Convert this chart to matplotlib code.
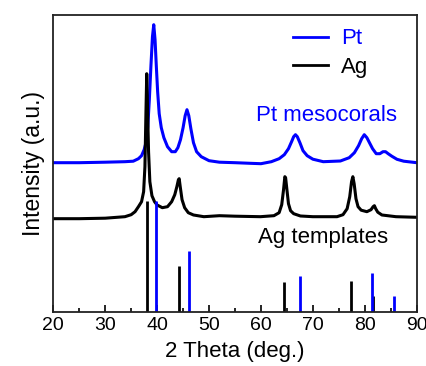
import matplotlib
matplotlib.use("Agg")
import matplotlib.pyplot as plt
from matplotlib.ticker import MultipleLocator
from matplotlib.lines import Line2D

plt.rcParams['font.family'] = ['Liberation Sans', 'DejaVu Sans']

# Pt mesocorals XRD curve (2theta, intensity a.u.)
pt_x = [20, 25, 30, 33.8, 35.4, 36.4, 37.0, 37.5, 37.9, 38.2, 38.5, 38.8, 39.1,
        39.35, 39.6, 39.85, 40.1, 40.4, 40.8, 41.3, 42.0, 42.8, 43.5, 44.0, 44.5,
        45.0, 45.4, 45.75, 46.1, 46.5, 47.0, 47.6, 48.5, 50.0, 52, 55, 57.9, 60.0,
        62.0, 63.5, 64.5, 65.3, 65.9, 66.3, 66.65, 67.0, 67.5, 68.1, 68.9, 70.0,
        72.0, 75.3, 77.0, 78.0, 78.8, 79.4, 79.9, 80.4, 80.9, 81.5, 82.2, 82.9,
        83.5, 84.0, 84.5, 85.2, 86.2, 87.5, 90]
pt_y = [149, 149, 149.5, 150, 150.5, 153, 156, 162, 170, 185, 212, 245, 275,
        287, 272, 245, 220, 198, 184, 174, 165, 160, 160, 164, 172,
        184, 196, 202, 196, 183, 169, 160, 155, 151, 149.5, 149, 148.4, 148,
        150, 153, 157, 163, 170, 175, 177, 175, 169, 161, 156, 152.5,
        150, 150.7, 154, 159, 166, 173, 177, 174, 169, 163, 158, 158,
        160, 160, 158, 155.5, 152.4, 150.5, 149]

# Ag templates XRD curve
ag_x = [20, 25, 30, 33.8, 35.0, 35.75, 36.4, 37.0, 37.4, 37.65, 37.85, 38.0, 38.15,
        38.35, 38.6, 39.0, 39.5, 40.0, 41.0, 42.0, 42.8, 43.4, 43.8, 44.1, 44.25,
        44.45, 44.8, 45.3, 46.0, 47.0, 49.0, 52, 55, 59.9, 62.5, 63.5, 64.0, 64.35,
        64.6, 64.75, 65.0, 65.3, 65.7, 66.3, 67.6, 70, 74.65, 75.8, 76.6, 77.1,
        77.45, 77.7, 77.95, 78.3, 78.7, 79.3, 80.4, 81.2, 81.6, 81.85, 82.1, 82.5,
        83.3, 86, 90]
ag_y = [93, 93, 93.5, 95, 97, 100, 105, 110, 120, 145, 200, 238, 205,
        160, 130, 116, 110, 106.7, 104, 105, 110, 117, 125, 132, 133,
        125, 112, 104, 99, 96.7, 95, 96, 95.5, 95, 96, 99, 107, 122,
        135, 134, 122, 108, 101, 98, 95.7, 95, 95, 97, 103, 115,
        130, 135, 128, 113, 105, 101.5, 100, 102, 105, 106, 103, 99.5,
        96.7, 95, 94.4]

# Reference stick patterns
ag_ref_x = [38.1, 44.3, 64.4, 77.4, 81.5]
ag_ref_h = [111, 46, 29.7, 31, 15.7]
pt_ref_x = [39.8, 46.2, 67.5, 81.3, 85.7]
pt_ref_h = [111, 60.4, 36, 38.4, 15.7]

BLUE = '#0000ff'
BLACK = '#000000'

fig = plt.figure(figsize=(4.27, 3.66), dpi=100)
ax = fig.add_axes([0.1248, 0.1484, 0.8511, 0.8106])

ax.plot(pt_x, pt_y, color=BLUE, lw=2.2, solid_joinstyle='round')
ax.plot(ag_x, ag_y, color=BLACK, lw=2.2, solid_joinstyle='round')
ax.vlines(ag_ref_x, 0, ag_ref_h, color=BLACK, lw=2.0)
ax.vlines(pt_ref_x, 0, pt_ref_h, color=BLUE, lw=2.0)

ax.set_xlim(20, 90)
ax.set_ylim(0, 296.7)
ax.xaxis.set_major_locator(MultipleLocator(10))
ax.xaxis.set_minor_locator(MultipleLocator(5))
ax.tick_params(axis='x', which='major', direction='in', length=5, width=1.2,
               labelsize=14, pad=4)
ax.tick_params(axis='x', which='minor', direction='in', length=3, width=1.2)
ax.set_yticks([])
for s in ax.spines.values():
    s.set_linewidth(1.3)
    s.set_color('#222222')

ax.set_xlabel('2 Theta (deg.)', fontsize=16, labelpad=5)
ax.set_ylabel('Intensity (a.u.)', fontsize=16.5, labelpad=6)

ax.text(72.6, 196, 'Pt mesocorals', color=BLUE, fontsize=16, ha='center', va='center')
ax.text(72.0, 74.5, 'Ag templates', color=BLACK, fontsize=16, ha='center', va='center')

handles = [Line2D([], [], color=BLUE, lw=2.0), Line2D([], [], color=BLACK, lw=2.0)]
ax.legend(handles, ['Pt', 'Ag'], loc='upper left', bbox_to_anchor=(0.66, 0.955),
          frameon=False, fontsize=16, handlelength=1.55, handletextpad=0.6,
          labelspacing=0.35, borderpad=0, borderaxespad=0, labelcolor=[BLUE, BLACK])

fig.savefig('out.png', dpi=100)
